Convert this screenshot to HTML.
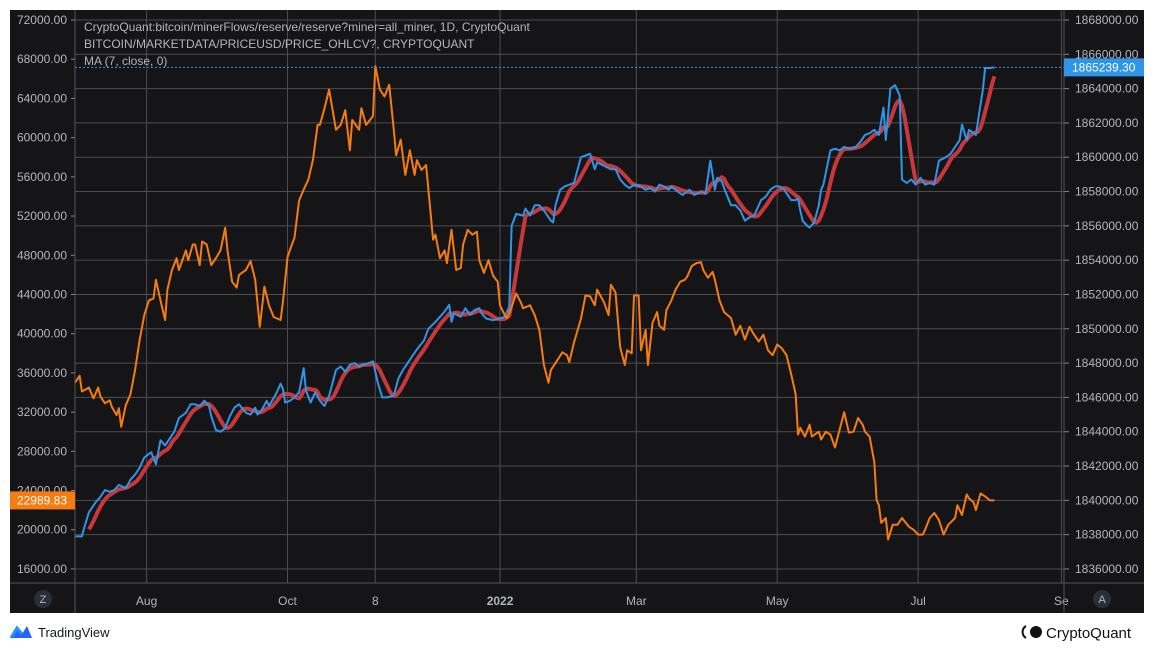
<!DOCTYPE html>
<html><head><meta charset="utf-8"><style>
html,body{margin:0;padding:0;background:#fff;width:1154px;height:649px;overflow:hidden;font-family:"Liberation Sans",sans-serif}
svg text{font-family:"Liberation Sans",sans-serif}
</style></head><body>
<svg id="chart" width="1154" height="649" xmlns="http://www.w3.org/2000/svg">
<rect x="10" y="10" width="1134" height="603" fill="#151518"/>
<g id="grid"></g>
<g id="series"></g>
<g id="axes"></g>
<g font-size="12" fill="#b2b5be">
<text x="84" y="31">CryptoQuant:bitcoin/minerFlows/reserve/reserve?miner=all_miner, 1D, CryptoQuant</text>
<text x="84" y="48">BITCOIN/MARKETDATA/PRICEUSD/PRICE_OHLCV?, CRYPTOQUANT</text>
<text x="84" y="65">MA (7, close, 0)</text>
</g>
<g><circle cx="43" cy="599" r="9" fill="#2a2e39"/><text x="43" y="603" font-size="11" fill="#b2b5be" text-anchor="middle">Z</text></g>
<g><circle cx="1102" cy="599" r="9" fill="#2a2e39"/><text x="1102" y="603" font-size="11" fill="#b2b5be" text-anchor="middle">A</text></g>
<g>
<path d="M11 638 L17 628 L22 634 L27 626 L32 638 Z" fill="#2962ff"/>
<path d="M11 638 L17 628 L22 634" stroke="#2196f3" stroke-width="3" fill="none"/>
<text x="38" y="637" font-size="13" fill="#131722">TradingView</text>
</g>
<g>
<circle cx="1036" cy="632" r="6" fill="#111"/><path d="M1026 626 a7 7 0 0 0 0 12" stroke="#111" stroke-width="2" fill="none"/>
<text x="1046" y="638" font-size="15" fill="#111">CryptoQuant</text>
</g>
</svg>
<script>
const priceDays=[0,2,3,6,8,10,11,13,15,16,18,19,20,22,24,26,28,30,32,34,35,37,39,40,42,44,45,48,49,51,52,54,55,57,59,61,63,65,66,68,70,71,74,76,78,80,82,84,86,89,90,92,93,95,97,99,101,103,105,106,108,110,113,115,117,119,120,123,124,126,129,130,132,134,136,138,139,141,143,145,147,148,150,152,155,156,158,160,161,163,165,167,168,170,172,174,175,177,179,181,183,184,186,187,189,191,193,194,197,199,201,203,205,206,208,211,213,214,216,219,221,223,225,226,229,231,232,234,236,238,239,241,242,244,245,247,248,250,252,253,255,256,258,260,262,264,265,267,269,271,272,274,276,277,279,281,284,286,288,290,292,294,296,298,300,302,304,306,308,310,312,313,314,316,318,319,322,323,325,327,329,331,333,335,337,339,341,342,344,346,347,348,349,351,352,354,356,358,361,363,365,367,368,370,372,374,376,378,381,382,384,386,387,389,390,392,394,396,398];
const priceValues=[35000,35700,34100,34500,33400,34500,33600,32900,33200,32500,31700,32400,30500,32700,33800,36300,39400,41900,43400,43600,45500,43400,41400,44500,46500,47700,46500,48500,47500,49100,49100,47000,49400,49100,47000,47700,48500,50800,48500,45300,44700,46000,46500,47400,45500,40700,44800,42900,41700,41400,43200,47800,48500,49800,53600,54700,55700,57700,61300,61300,63000,64900,60800,61300,62800,58700,61800,60800,63000,61300,62200,67300,64900,64200,65400,60800,58200,59800,56200,58700,56200,57700,56700,57200,49600,50100,47700,48500,47200,50600,46500,46700,49100,50600,50100,50400,47500,46200,47500,45900,45300,42900,41900,41600,42700,44100,43200,42600,42900,41900,40400,36800,35000,36300,37000,38100,37800,37100,39100,41500,43900,43800,42900,44500,43200,41900,45000,44200,38600,36800,38300,38000,43900,43900,38300,40400,36800,41100,42200,40800,40400,42400,43300,44500,45300,45500,45800,46900,47200,47300,46500,45700,46300,45500,43400,42200,41600,39900,40800,39400,40700,39900,39200,39900,38300,37800,38900,38500,37800,35900,33800,29700,30400,29500,30700,29500,30000,29200,30000,29700,28400,30200,32000,29900,30000,31400,30700,30000,29500,26900,23000,22500,20700,21200,19000,20500,20500,21200,20300,20000,19500,19500,20000,21200,21700,21000,19500,20500,21200,22500,21500,23600,23200,22800,22000,23700,23400,23000,22989.83];
const reserveDays=[0,3,4,6,9,11,13,15,17,19,22,24,26,28,30,33,35,37,39,41,43,45,48,50,52,54,56,58,59,61,63,65,67,69,71,74,76,78,79,81,83,84,87,89,90,91,93,95,97,99,100,102,104,106,108,110,113,115,117,119,121,123,129,131,133,135,138,140,142,145,148,151,153,156,158,160,162,163,164,167,169,171,173,175,176,178,181,184,186,188,189,191,194,195,197,199,201,203,206,207,208,210,212,214,216,219,221,223,225,226,229,232,234,236,238,240,242,245,247,249,251,253,255,257,258,261,263,266,268,271,273,275,276,277,278,280,281,284,286,288,290,292,294,297,299,301,303,305,307,310,312,313,314,315,317,318,320,322,323,324,327,329,331,333,335,338,340,342,344,346,348,350,351,353,355,357,358,360,362,364,366,368,370,372,374,377,379,381,383,384,386,387,390,391,393,394,396,398];
const reserveValues=[1837900,1837900,1838400,1839300,1839900,1840200,1840600,1840500,1840600,1840900,1840700,1841200,1841500,1841900,1842500,1842800,1842100,1843500,1843200,1843600,1844000,1844800,1845100,1845600,1845600,1845500,1845800,1845500,1844900,1844100,1844000,1844200,1844900,1845400,1845600,1845100,1845000,1845400,1845000,1845300,1845800,1845500,1846200,1846800,1846500,1845700,1845800,1846000,1846300,1847700,1846400,1845700,1846300,1845800,1845500,1846100,1847600,1847800,1847500,1847900,1848000,1847800,1848100,1846900,1846000,1846000,1846100,1847100,1847600,1848200,1848800,1849300,1850000,1850400,1850700,1851000,1851400,1850400,1850900,1850700,1851200,1850800,1851100,1851200,1850900,1850600,1850500,1850600,1850700,1851300,1856000,1856700,1856600,1857000,1856600,1857200,1857200,1856900,1856300,1856200,1857200,1858100,1858300,1858400,1858500,1860000,1860100,1860200,1859300,1859700,1859500,1859300,1859300,1858700,1858400,1858200,1858400,1858300,1858100,1858200,1858000,1858400,1858300,1858100,1858300,1858000,1857800,1858100,1857800,1858000,1857900,1859800,1859000,1858100,1858800,1858600,1858200,1857200,1857200,1856900,1856300,1856500,1856600,1857500,1857700,1858100,1858300,1858300,1858100,1857500,1857500,1857600,1856900,1856300,1856000,1855900,1856200,1857200,1858100,1858400,1860400,1860500,1860400,1860600,1860500,1860600,1860900,1861300,1861400,1861600,1861300,1862900,1861000,1864000,1864200,1863600,1858700,1858500,1858700,1858400,1858800,1858400,1858500,1858400,1859800,1860000,1860200,1860600,1861000,1861900,1861000,1861600,1861300,1862200,1863900,1865200,1865200,1865239.30];
const leftTicks=[72000,68000,64000,60000,56000,52000,48000,44000,40000,36000,32000,28000,24000,20000,16000];
const rightTicks=[1868000,1866000,1864000,1862000,1860000,1858000,1856000,1854000,1852000,1850000,1848000,1846000,1844000,1842000,1840000,1838000,1836000];
const monthLabels=["Aug","Oct","8","2022","Mar","May","Jul","Se"];
const monthDays=[31,92,130,184,243,304,365,427];
const MA_PERIOD=7;

const NS="http://www.w3.org/2000/svg";
const X0=75,X1=1064,Y0=10,Y1=583;
const xOf=d=>X0+d*2.31;
const yL=v=>20+(72000-v)/4000*39.21;
const yR=v=>20+(1868000-v)/2000*34.31;
function mk(tag,attrs,parent){const e=document.createElementNS(NS,tag);for(const k in attrs)e.setAttribute(k,attrs[k]);parent.appendChild(e);return e;}
const grid=document.getElementById('grid'),series=document.getElementById('series'),axes=document.getElementById('axes');

rightTicks.forEach(v=>{const y=yR(v);
 const l=mk('line',{x1:X0,x2:X1,y1:y,y2:y,stroke:'#4d4d52','stroke-width':1},grid);
 
 
 const t=mk('text',{x:1075,y:y+4,'font-size':12,fill:'#b2b5be'},axes);t.textContent=v.toFixed(2);
 
 
 mk('line',{x1:X1,x2:X1+5,y1:y,y2:y,stroke:'#888'},axes);
});
leftTicks.forEach(v=>{const y=yL(v);
 const t=mk('text',{x:67,y:y+4,'font-size':12,fill:'#b2b5be','text-anchor':'end'},axes);t.textContent=v.toFixed(2);
 
 
 mk('line',{x1:X0-4,x2:X0,y1:y,y2:y,stroke:'#888'},axes);
});
monthLabels.forEach((m,i)=>{const x=xOf(monthDays[i]);
 const l=mk('line',{x1:x,x2:x,y1:Y0,y2:Y1,stroke:'#4d4d52'},grid);
 
 
 const t=mk('text',{x:x,y:605,'font-size':12,fill:'#b2b5be','text-anchor':'middle','font-weight':m==='2022'?'bold':'normal'},axes);t.textContent=m;
 
 
});
mk('line',{x1:10,x2:1144,y1:Y1,y2:Y1,stroke:'#555'},axes);
mk('line',{x1:X0,x2:X0,y1:Y0,y2:613,stroke:'#555'},axes);
mk('line',{x1:X1,x2:X1,y1:Y0,y2:613,stroke:'#555'},axes);
mk('rect',{x:X1+1,y:Y0,width:79,height:Y1-Y0,fill:'#151518'},grid);

const daily=[];
for(let d=0;d<=reserveDays[reserveDays.length-1];d++){
 let i=0;while(i<reserveDays.length-2&&reserveDays[i+1]<d)i++;
 const a=reserveDays[i],b=reserveDays[i+1];const t=b===a?0:(d-a)/(b-a);
 daily.push(reserveValues[i]+(reserveValues[i+1]-reserveValues[i])*Math.min(1,Math.max(0,t)));
}
let maPts=[];
for(let d=MA_PERIOD-1;d<daily.length;d++){let s=0;for(let k=0;k<MA_PERIOD;k++)s+=daily[d-k];maPts.push(xOf(d).toFixed(1)+','+yR(s/MA_PERIOD).toFixed(1));}
const ma=mk('polyline',{points:maPts.join(' '),fill:'none',stroke:'#c8383a','stroke-width':4,'stroke-linejoin':'round'},series);


const res=mk('polyline',{points:reserveDays.map((d,i)=>xOf(d).toFixed(1)+','+yR(reserveValues[i]).toFixed(1)).join(' '),fill:'none',stroke:'#2f95e8','stroke-width':2,'stroke-linejoin':'round'},series);


const pr=mk('polyline',{points:priceDays.map((d,i)=>xOf(d).toFixed(1)+','+yL(priceValues[i]).toFixed(1)).join(' '),fill:'none',stroke:'#f57c10','stroke-width':2,'stroke-linejoin':'round'},series);



const lastR=reserveValues[reserveValues.length-1],lastP=priceValues[priceValues.length-1];
const yr=yR(lastR);
const dl=mk('line',{x1:X0,x2:X1,y1:yr,y2:yr,stroke:'#2f95e8','stroke-dasharray':'2,2'},series);


const rb=mk('rect',{x:X1,y:yr-9,width:80,height:18,fill:'#2f95e8'},axes);


const rt=mk('text',{x:1072,y:yr+4,'font-size':12,fill:'#fff'},axes);rt.textContent=lastR.toFixed(2);
const yp=yL(lastP);
const pb=mk('rect',{x:10,y:yp-9,width:65,height:18,fill:'#f57c10'},axes);


const pt=mk('text',{x:67,y:yp+4,'font-size':12,fill:'#fff','text-anchor':'end'},axes);pt.textContent=lastP.toFixed(2);
</script>
</body></html>
